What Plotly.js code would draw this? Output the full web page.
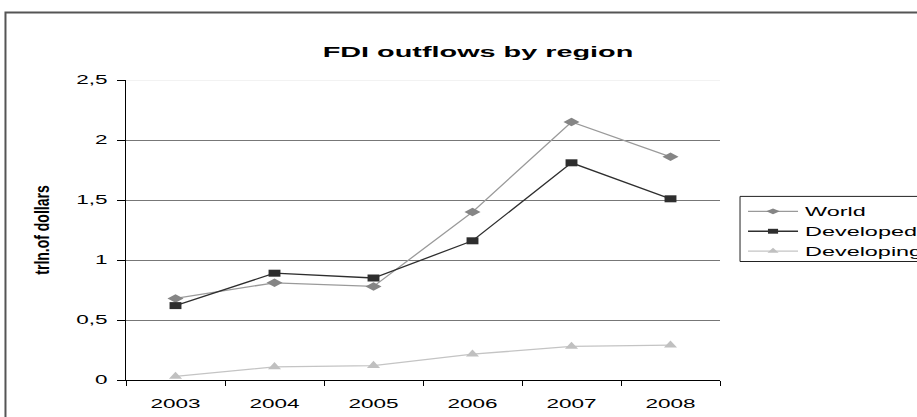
<!DOCTYPE html>
<html>
<head>
<meta charset="utf-8">
<script src="https://cdn.plot.ly/plotly-3.0.1.min.js"></script>
<style>html,body{margin:0;padding:0;background:#fff;}#chart{width:917px;height:417px;}</style>
</head>
<body>
<div id="chart"></div>
<script>
// Data
var years = ['2003', '2004', '2005', '2006', '2007', '2008'];
var world = [0.68, 0.81, 0.78, 1.40, 2.15, 1.86];
var developed = [0.62, 0.89, 0.85, 1.16, 1.81, 1.51];
var developing = [0.03, 0.11, 0.12, 0.215, 0.28, 0.29];
var seriesNames = ['World', 'Developed', 'Developing'];
var yTickVals = [0, 0.5, 1, 1.5, 2, 2.5];

var FONT = 'Liberation Sans, Arial, sans-serif';

var traces = [
  {x: years, y: world, name: seriesNames[0], type: 'scatter', mode: 'lines+markers',
   line: {color: '#9a9a9a', width: 1.3},
   marker: {symbol: 'diamond', size: 6.5, color: '#858585'}},
  {x: years, y: developed, name: seriesNames[1], type: 'scatter', mode: 'lines+markers',
   line: {color: '#2e2e2e', width: 1.3},
   marker: {symbol: 'square', size: 7, color: '#2e2e2e'}},
  {x: years, y: developing, name: seriesNames[2], type: 'scatter', mode: 'lines+markers',
   line: {color: '#c4c4c4', width: 1.3},
   marker: {symbol: 'triangle-up', size: 9.5, color: '#c0c0c0'}}
];
var markerStretch = [1.9, 1.7, 1.2];

var layout = {
  width: 917, height: 417,
  margin: {l: 126, r: 197, t: 80, b: 37},
  paper_bgcolor: '#ffffff', plot_bgcolor: '#ffffff',
  separators: ', ',
  font: {family: FONT, color: '#000'},
  showlegend: true,
  hovermode: false,
  title: {text: 'FDI outflows by region', font: {family: FONT, size: 15.5, weight: 'bold', color: '#000'},
          xref: 'container', yref: 'container', x: 0.5213, y: 0.877, xanchor: 'center', yanchor: 'middle'},
  xaxis: {type: 'category', range: [-0.5, 5.5], tickson: 'boundaries', ticks: 'outside', ticklen: 5,
          tickcolor: '#000', tickwidth: 1, showline: true, linecolor: '#000', linewidth: 1,
          showgrid: false, zeroline: false, tickfont: {family: FONT, size: 12.5, color: '#000'},
          ticklabelstandoff: 12},
  yaxis: {range: [0, 2.5], tickvals: yTickVals, ticks: 'outside', ticklen: 8, tickcolor: '#000',
          showline: true, linecolor: '#000', linewidth: 1, showgrid: true, gridcolor: '#777777', gridwidth: 1,
          zeroline: false, tickfont: {family: FONT, size: 12.5, color: '#000'}, ticklabelstandoff: 7,
          title: {text: 'trln.of dollars', font: {family: FONT, size: 14, weight: 'bold', color: '#000'}, standoff: 39}},
  legend: {x: 1.0758, y: 0.612, xanchor: 'left', yanchor: 'top', bgcolor: 'rgba(0,0,0,0)', borderwidth: 0,
           font: {family: FONT, size: 13, color: '#000'}},
  shapes: [
    // light top gridline
    {type: 'line', xref: 'paper', yref: 'y', x0: 0, x1: 1, y0: 2.5, y1: 2.5, line: {color: '#e6e6e6', width: 1}},
    // legend frame (extends beyond the right edge)
    {type: 'rect', xref: 'paper', yref: 'paper', x0: 1.0337, x1: 1.36, y0: 0.395, y1: 0.612,
     line: {color: '#222', width: 1}},
    // outer chart frame
    {type: 'rect', xref: 'paper', yref: 'paper', x0: -0.2029, x1: 1.5, y0: -0.5, y1: 1.2254,
     line: {color: '#555', width: 2}}
  ]
};

Plotly.newPlot('chart', traces, layout, {displayModeBar: false, staticPlot: true}).then(function(gd) {
  // horizontally widen the texts, like the stretched original picture
  function stretch(selector, K) {
    gd.querySelectorAll(selector).forEach(function(t) {
      var w = t.getComputedTextLength();
      if (w > 0) {
        t.setAttribute('textLength', (w * K).toFixed(1));
        t.setAttribute('lengthAdjust', 'spacingAndGlyphs');
      }
    });
  }
  stretch('.xtick text, .ytick text, .legendtext', 1.8);
  stretch('.gtitle', 1.86);
  // let legend texts overflow their clip box
  gd.querySelectorAll('.legend [clip-path]').forEach(function(el) { el.removeAttribute('clip-path'); });
  // thicken the rotated y title horizontally
  var yt = gd.querySelector('.ytitle');
  if (yt) {
    var tr = yt.getAttribute('transform') || '';
    var bb = yt.getBBox();
    var my = bb.y + bb.height / 2;
    yt.setAttribute('transform', tr + ' translate(0,' + my + ') scale(1,1.45) translate(0,' + (-my) + ')');
  }
  // widen markers horizontally
  gd.querySelectorAll('.scatterlayer .trace').forEach(function(g, i) {
    g.querySelectorAll('path.point').forEach(function(p) {
      p.setAttribute('transform', (p.getAttribute('transform') || '') + ' scale(' + markerStretch[i] + ',1)');
    });
  });
  // legend symbols: longer line, smaller centred marker
  gd.querySelectorAll('.legend .traces').forEach(function(g, i) {
    g.querySelectorAll('.legendlines path').forEach(function(p) {
      p.setAttribute('d', 'M-17,0h50');
    });
    g.querySelectorAll('.legendpoints path').forEach(function(p) {
      p.setAttribute('transform', 'translate(8,0) scale(' + (markerStretch[i] * 0.85) + ',0.7)');
    });
  });
});
</script>
</body>
</html>
